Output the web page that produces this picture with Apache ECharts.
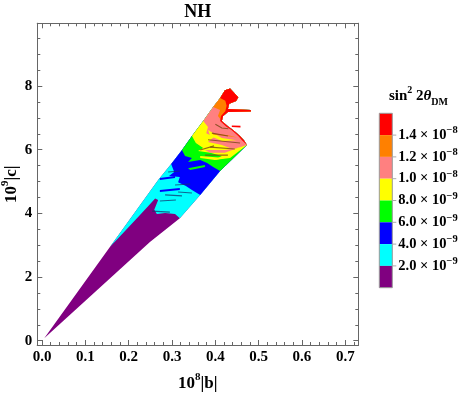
<!DOCTYPE html>
<html><head><meta charset="utf-8">
<script src="https://cdn.jsdelivr.net/npm/echarts@6/dist/echarts.min.js"></script>
<style>html,body{margin:0;padding:0;background:#fff}#c{width:469px;height:395px}</style>
</head><body><div id="c"></div>
<script>
// ---------- data ----------
const xMajor = [0, 0.1, 0.2, 0.3, 0.4, 0.5, 0.6, 0.7];
const xMinor = [0.02,0.04,0.06,0.08,0.12,0.14,0.16,0.18,0.22,0.24,0.26,0.28,0.32,0.34,0.36,0.38,0.42,0.44,0.46,0.48,0.52,0.54,0.56,0.58,0.62,0.64,0.66,0.68,0.72];
const yMajor = [0, 2, 4, 6, 8];
const yMinor = [0.5,1,1.5,2.5,3,3.5,4.5,5,5.5,6.5,7,7.5,8.5,9,9.5];
const legendBreaks = [2e-9, 4e-9, 6e-9, 8e-9, 1.0e-8, 1.2e-8, 1.4e-8];
const levelValues = [1e-9, 3e-9, 5e-9, 7e-9, 9e-9, 1.1e-8, 1.3e-8, 1.5e-8];
const levelColors = ['#800080', '#00ffff', '#0000ff', '#00ff00', '#ffff00', '#ff8080', '#ff8000', '#ff0000'];

// allowed region outline (10^8|b|, 10^9|c|)
const wedgeOutline = [
 [0.005, 0.08], [0.157, 2.95], [0.268, 5.05], [0.298, 5.55], [0.323, 5.99],
 [0.346, 6.43], [0.372, 6.90], [0.395, 7.34], [0.411, 7.62], [0.422, 7.87],
 [0.434, 7.92], [0.453, 7.65], [0.448, 7.53], [0.432, 7.44], [0.429, 7.28],
 [0.482, 7.25], [0.482, 7.20], [0.429, 7.18], [0.418, 7.06], [0.415, 6.90],
 [0.429, 6.74], [0.441, 6.62], [0.457, 6.43], [0.466, 6.30], [0.473, 6.15],
 [0.411, 5.33], [0.365, 4.58], [0.318, 3.85], [0.249, 3.10]
];
// contour boundaries (lower edge of each level, start & end on outline)
const cyanEdge = [[0.157,2.95],[0.192,3.45],[0.226,3.95],[0.249,4.29],[0.261,4.47],[0.268,4.42],[0.259,4.11],[0.265,3.98],[0.284,4.01],[0.307,3.98],[0.318,3.85]];
const blueEdge = [[0.298,5.55],[0.305,5.30],[0.293,5.17],[0.318,5.14],[0.314,4.98],[0.332,4.86],[0.346,4.73],[0.365,4.58]];
const greenEdge = [[0.323,5.99],[0.330,5.80],[0.346,5.74],[0.337,5.61],[0.365,5.68],[0.381,5.58],[0.395,5.46],[0.411,5.33]];
const yellowEdge = [[0.346,6.43],[0.355,6.21],[0.372,6.05],[0.360,5.96],[0.388,5.90],[0.415,5.80],[0.397,5.68],[0.434,5.74],[0.452,5.93],[0.473,6.15]];
const salmonEdge = [[0.372,6.90],[0.383,6.71],[0.379,6.52],[0.397,6.40],[0.383,6.24],[0.415,6.15],[0.439,6.02],[0.457,6.08],[0.473,6.15]];
const orangeEdge = [[0.395,7.34],[0.411,7.25],[0.406,7.06],[0.415,6.90]];
const redEdge = [[0.411,7.62],[0.423,7.54],[0.426,7.38],[0.423,7.21],[0.413,7.06],[0.411,6.90],[0.425,6.73],[0.438,6.61],[0.453,6.43],[0.462,6.29],[0.473,6.15]];
// small islands
const bluePatches = [
 [[0.272,5.11],[0.307,5.17],[0.307,5.11],[0.272,5.05]],
 [[0.272,4.73],[0.318,4.80],[0.318,4.73],[0.272,4.67]]
];
const greenPatches = [[[0.337,5.42],[0.376,5.52],[0.376,5.46],[0.342,5.36]]];
const yellowPatches = [
 [[0.365,5.80],[0.422,5.74],[0.399,5.68],[0.365,5.74]],
 [[0.383,6.62],[0.415,6.37],[0.448,6.30],[0.415,6.27],[0.388,6.43]]
];
const salmonPatches = [[[0.376,5.99],[0.422,5.99],[0.452,6.05],[0.422,5.90],[0.388,5.90]]];
const orangePatches = [[[0.392,6.52],[0.430,6.45],[0.450,6.38],[0.430,6.42],[0.395,6.48]]];
const redPatches = [[[0.438,6.76],[0.458,6.75],[0.458,6.70],[0.438,6.71]]];
// contour line strands
const brownStrands = [
 [[0.383,6.31],[0.457,6.21]], [[0.388,6.08],[0.445,6.02]], [[0.392,6.52],[0.429,6.43]],
 [[0.376,5.83],[0.429,5.83]], [[0.365,5.99],[0.397,6.12]], [[0.400,6.80],[0.415,6.68],[0.430,6.66]]
];
const navyStrands = [
 [[0.284,4.58],[0.323,4.55]], [[0.272,4.39],[0.309,4.42]], [[0.307,4.89],[0.342,4.92]],
 [[0.291,5.30],[0.318,5.33]], [[0.254,4.07],[0.295,4.04]], [[0.314,4.67],[0.346,4.64]]
];

// ---------- build ----------
const FONT = 'Liberation Serif';
const FRAME = '#666';
function idxOf(p){ return wedgeOutline.findIndex(q => q[0]===p[0] && q[1]===p[1]); }
function closeEdge(edge){
  const s = idxOf(edge[0]), e = idxOf(edge[edge.length-1]);
  return edge.concat(wedgeOutline.slice(s+1, e).reverse());
}
const polys = [];
polys.push({lv:0, pts: wedgeOutline});
[cyanEdge, blueEdge, greenEdge, yellowEdge, salmonEdge, orangeEdge].forEach((e,i)=>polys.push({lv:i+1, pts: closeEdge(e)}));
bluePatches.forEach(p=>polys.push({lv:2, pts:p}));
greenPatches.forEach(p=>polys.push({lv:3, pts:p}));
salmonPatches.forEach(p=>polys.push({lv:5, pts:p}));
yellowPatches.forEach(p=>polys.push({lv:4, pts:p}));
orangePatches.forEach(p=>polys.push({lv:6, pts:p}));
polys.push({lv:7, pts: closeEdge(redEdge)});
redPatches.forEach(p=>polys.push({lv:7, pts:p}));

const strands = [];
navyStrands.forEach(s=>strands.push({c:'rgba(20,50,110,0.75)', pts:s}));
brownStrands.forEach(s=>strands.push({c:'rgba(120,70,20,0.8)', pts:s}));

const xMin = -0.011, xMax = 0.730, yMin = -0.135, yMax = 9.97;
const lab = {fontFamily: FONT, fontWeight:'bold', fontSize:15, color:'#000'};

function xAx(pos, ticks, len, labels){
  return {type:'value', min:xMin, max:xMax, position:pos, splitLine:{show:false},
    axisLine:{show:true, onZero:false, lineStyle:{color:FRAME, width:1}},
    axisTick:{show:true, inside:true, length:len, customValues:ticks, lineStyle:{color:FRAME}},
    axisLabel: labels ? Object.assign({customValues:ticks, margin:5, formatter:v=>v.toFixed(1)}, lab) : {show:false}};
}
function yAx(pos, ticks, len, labels){
  return {type:'value', min:yMin, max:yMax, position:pos, splitLine:{show:false},
    axisLine:{show:true, onZero:false, lineStyle:{color:FRAME, width:1}},
    axisTick:{show:true, inside:true, length:len, customValues:ticks, lineStyle:{color:FRAME}},
    axisLabel: labels ? Object.assign({customValues:ticks, margin:5, formatter:v=>String(v)}, lab) : {show:false}};
}
const xAxes = [xAx('bottom', xMajor, 5, true), xAx('bottom', xMinor, 3, false), xAx('top', xMajor, 5, false), xAx('top', xMinor, 3, false)];
const yAxes = [yAx('left', yMajor, 5, true), yAx('left', yMinor, 3, false), yAx('right', yMajor, 5, false), yAx('right', yMinor, 3, false)];
const nameRich = {a:{fontFamily:FONT, fontWeight:'bold', fontSize:17, color:'#000', lineHeight:24},
                  s:{fontFamily:FONT, fontWeight:'bold', fontSize:11, color:'#000', verticalAlign:'top', lineHeight:12}};
Object.assign(xAxes[0], {name:'{a|10}{s|8}{a||b|}', nameLocation:'middle', nameGap:27, nameMoveOverlap:false, nameTextStyle:{rich:nameRich}});
Object.assign(yAxes[0], {name:'{a|10}{s|9}{a||c|}', nameLocation:'middle', nameGap:14, nameMoveOverlap:false, nameTextStyle:{rich:nameRich}});

// colour bar geometry
const barLeft = 379.3, barTop = 113.3, barW = 13, barH = 21.8;
const graphics = [];
graphics.push({type:'rect', shape:{x:barLeft, y:barTop, width:barW, height:barH*8}, style:{fill:'none', stroke:'#999', lineWidth:1}, z:100});
const supRich = {m:{fontFamily:FONT, fontWeight:'bold', fontSize:14.5, color:'#000', lineHeight:20},
                 e:{fontFamily:FONT, fontWeight:'bold', fontSize:10.5, color:'#000', verticalAlign:'top', lineHeight:10}};
legendBreaks.slice().reverse().forEach((v,k)=>{
  const y = barTop + (k+1)*barH;
  const exp = Math.floor(Math.log10(v)+1e-9);
  const man = (v/Math.pow(10,exp)).toFixed(1);
  graphics.push({type:'line', shape:{x1:barLeft+barW, y1:y, x2:barLeft+barW+4, y2:y}, style:{stroke:'#aaa', lineWidth:1}, z:100});
  graphics.push({type:'text', x:barLeft+19, y:y, z:100,
    style:{text:'{m|'+man+' × 10}{e|−'+Math.abs(exp)+'}', rich:supRich, align:'left', verticalAlign:'middle', textAlign:'left', textVerticalAlign:'middle'}});
});
graphics.push({type:'text', x:418.5, y:96.5, z:100,
  style:{text:'{m|sin}{p|2}{m| 2}{t|θ}{b|DM}', align:'center', verticalAlign:'middle', textAlign:'center', textVerticalAlign:'middle',
    rich:{m:{fontFamily:FONT, fontWeight:'bold', fontSize:15, color:'#000', lineHeight:22},
          p:{fontFamily:FONT, fontWeight:'bold', fontSize:10, color:'#000', verticalAlign:'top', lineHeight:10},
          t:{fontFamily:FONT, fontWeight:'bold', fontStyle:'italic', fontSize:15, color:'#000', lineHeight:22},
          b:{fontFamily:FONT, fontWeight:'bold', fontSize:10, color:'#000', verticalAlign:'bottom', lineHeight:10}}}});
// plot title
graphics.push({type:'text', x:197.8, y:12.5, z:100,
  style:{text:'NH', fontFamily:FONT, fontWeight:'bold', fontSize:18, fill:'#000', align:'center', verticalAlign:'middle', textAlign:'center', textVerticalAlign:'middle'}});

const pieces = levelValues.map((v,i)=>{
  const lo = i===0 ? 0 : legendBreaks[i-1];
  const hi = i===levelValues.length-1 ? 1.6e-8 : legendBreaks[i];
  return {gte:lo, lt:hi, color:levelColors[i]};
});

const chart = echarts.init(document.getElementById('c'), null, {renderer:'canvas'});
chart.setOption({
  animation:false,
  backgroundColor:'#fff',
  grid:{left:37.3, top:23.3, width:321, height:321.7, containLabel:false, outerBoundsMode:'none'},
  xAxis: xAxes,
  yAxis: yAxes,
  visualMap:{type:'piecewise', dimension:0, seriesIndex:0, pieces:pieces, orient:'vertical',
    left:barLeft, top:barTop, itemWidth:barW, itemHeight:barH, itemGap:0, padding:0, showLabel:false,
    itemSymbol:'rect', selectedMode:false, hoverLink:false},
  graphic: graphics,
  series:[
    {type:'custom', coordinateSystem:'cartesian2d', xAxisIndex:0, yAxisIndex:0, clip:true,
     dimensions:['level','poly','px','py'], encode:{x:2, y:3},
     data: polys.map((p,i)=>[levelValues[p.lv], i, 0, 0]),
     renderItem:(params, api)=>{
       const p = polys[params.dataIndex];
       return {type:'polygon', shape:{points:p.pts.map(q=>api.coord(q))}, style:{fill:api.visual('color')}};
     }},
    {type:'custom', coordinateSystem:'cartesian2d', xAxisIndex:0, yAxisIndex:0, clip:true,
     encode:{x:1, y:2},
     data: strands.map((s,i)=>[i, 0, 0]),
     renderItem:(params, api)=>{
       const s = strands[params.dataIndex];
       return {type:'polyline', shape:{points:s.pts.map(q=>api.coord(q))}, style:{stroke:s.c, lineWidth:1.1, fill:null}};
     }}
  ]
});
</script></body></html>
